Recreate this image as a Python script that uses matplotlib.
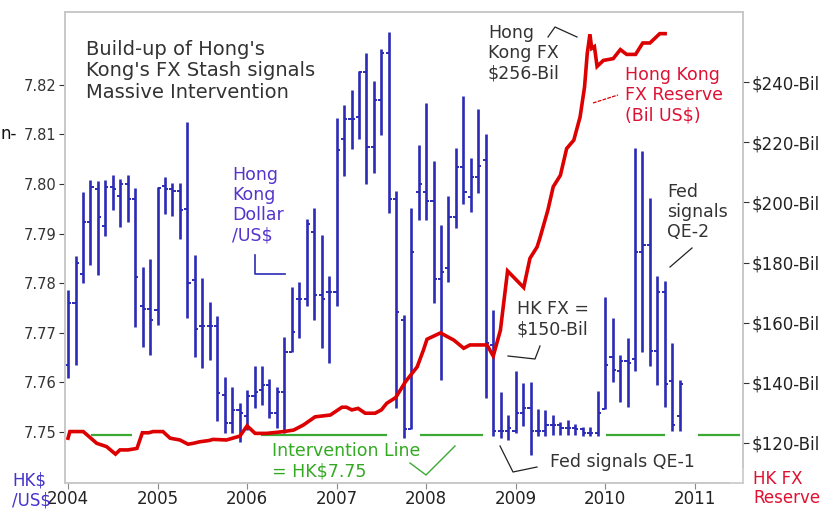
import matplotlib.pyplot as plt
from matplotlib.lines import Line2D

# monthly HK$ per US$ bars, Jan 2004 .. Nov 2010
hkd_high = [7.7786, 7.7854, 7.7983, 7.8008, 7.8006, 7.8008, 7.8018, 7.8010, 7.8018, 7.7992,
            7.7833, 7.7849, 7.7994, 7.8015, 7.8002, 7.8002, 7.8126, 7.7857, 7.7811, 7.7762,
            7.7733, 7.7610, 7.7590, 7.7559, 7.7585, 7.7632, 7.7632, 7.7606, 7.7591, 7.7692,
            7.7793, 7.7803, 7.7929, 7.7951, 7.7897, 7.7815, 7.8133, 7.8160, 7.8189, 7.8227,
            7.8265, 7.8208, 7.8272, 7.8306, 7.7985, 7.7736, 7.7951, 7.8079, 7.8164, 7.8047,
            7.7918, 7.7975, 7.8072, 7.8177, 7.8052, 7.8151, 7.8101, 7.7746, 7.7581, 7.7534,
            7.7622, 7.7598, 7.7601, 7.7546, 7.7544, 7.7534, 7.7521, 7.7524, 7.7516, 7.7509,
            7.7509, 7.7583, 7.7773, 7.7729, 7.7655, 7.7689, 7.8072, 7.8066, 7.7971, 7.7815,
            7.7805, 7.7680, 7.7605]
hkd_low = [7.7609, 7.7635, 7.7801, 7.7837, 7.7817, 7.7895, 7.7948, 7.7914, 7.7924, 7.7712,
           7.7671, 7.7655, 7.7715, 7.7940, 7.7935, 7.7889, 7.7730, 7.7652, 7.7628, 7.7645,
           7.7523, 7.7497, 7.7497, 7.7480, 7.7504, 7.7548, 7.7554, 7.7528, 7.7507, 7.7497,
           7.7662, 7.7689, 7.7754, 7.7725, 7.7669, 7.7640, 7.7754, 7.8016, 7.8070, 7.8090,
           7.8000, 7.8023, 7.8099, 7.7941, 7.7548, 7.7487, 7.7505, 7.7928, 7.7928, 7.7760,
           7.7605, 7.7803, 7.7912, 7.7960, 7.7944, 7.7982, 7.7568, 7.7491, 7.7487, 7.7484,
           7.7497, 7.7511, 7.7454, 7.7491, 7.7491, 7.7494, 7.7494, 7.7494, 7.7494, 7.7492,
           7.7492, 7.7492, 7.7546, 7.7601, 7.7561, 7.7550, 7.7622, 7.7662, 7.7632, 7.7595,
           7.7550, 7.7501, 7.7501]
hkd_open = [7.7634, 7.7761, 7.7819, 7.7924, 7.7990, 7.7916, 7.7995, 7.7976, 7.8000, 7.7970,
            7.7754, 7.7748, 7.7745, 7.7996, 7.7990, 7.7985, 7.7950, 7.7807, 7.7714, 7.7714,
            7.7714, 7.7575, 7.7519, 7.7544, 7.7532, 7.7573, 7.7585, 7.7595, 7.7538, 7.7581,
            7.7662, 7.7768, 7.7768, 7.7904, 7.7776, 7.7783, 7.7783, 7.8090, 7.8131, 7.8135,
            7.8225, 7.8075, 7.8170, 7.8264, 7.7969, 7.7726, 7.7505, 7.7983, 7.7983, 7.7965,
            7.7808, 7.7830, 7.7933, 7.8035, 7.7973, 7.8014, 7.8049, 7.7676, 7.7501, 7.7502,
            7.7501, 7.7538, 7.7548, 7.7501, 7.7501, 7.7514, 7.7514, 7.7507, 7.7507, 7.7505,
            7.7497, 7.7497, 7.7546, 7.7652, 7.7622, 7.7644, 7.7647, 7.7862, 7.7877, 7.7664,
            7.7783, 7.7603, 7.7532]
hkd_close = [7.7761, 7.7841, 7.7924, 7.7995, 7.7934, 7.7995, 7.7990, 7.8000, 7.7970, 7.7813,
             7.7748, 7.7726, 7.7992, 7.7990, 7.7985, 7.7948, 7.7801, 7.7707, 7.7714, 7.7714,
             7.7579, 7.7519, 7.7544, 7.7538, 7.7573, 7.7581, 7.7595, 7.7538, 7.7581, 7.7662,
             7.7702, 7.7768, 7.7920, 7.7776, 7.7768, 7.7783, 7.8069, 7.8131, 7.8131, 7.8225,
             7.8075, 7.8170, 7.8265, 7.7969, 7.7741, 7.7505, 7.7862, 7.8000, 7.7965, 7.7808,
             7.7823, 7.7933, 7.8035, 7.7983, 7.8014, 7.8037, 7.7679, 7.7501, 7.7501, 7.7507,
             7.7538, 7.7548, 7.7501, 7.7501, 7.7514, 7.7514, 7.7507, 7.7507, 7.7505, 7.7497,
             7.7497, 7.7538, 7.7635, 7.7625, 7.7644, 7.7640, 7.7862, 7.7877, 7.7664, 7.7783,
             7.7597, 7.7514, 7.7597]
first_year = 2004.0

# Hong Kong FX reserve, Bil US$
fx_year = [2004.00, 2004.02, 2004.17, 2004.32, 2004.43, 2004.53, 2004.58, 2004.67, 2004.77, 2004.83,
           2004.90, 2004.95, 2005.06, 2005.14, 2005.25, 2005.34, 2005.40, 2005.47, 2005.57, 2005.62,
           2005.77, 2005.92, 2006.00, 2006.09, 2006.22, 2006.41, 2006.52, 2006.63, 2006.76, 2006.93,
           2007.06, 2007.11, 2007.17, 2007.24, 2007.32, 2007.43, 2007.50, 2007.56, 2007.66, 2007.77,
           2007.90, 2007.97, 2008.01, 2008.16, 2008.31, 2008.42, 2008.49, 2008.68, 2008.75, 2008.83,
           2008.91, 2009.09, 2009.16, 2009.24, 2009.27, 2009.36, 2009.42, 2009.50, 2009.57, 2009.65,
           2009.72, 2009.77, 2009.80, 2009.83, 2009.85, 2009.88, 2009.91, 2009.98, 2010.09, 2010.17,
           2010.24, 2010.34, 2010.42, 2010.50, 2010.61, 2010.67]
fx_bil = [121.6, 123.8, 123.8, 119.9, 118.8, 116.3, 117.7, 117.7, 118.2, 123.4,
          123.4, 123.8, 123.8, 121.6, 121.0, 119.6, 119.9, 120.4, 120.8, 121.2,
          121.0, 122.3, 125.7, 123.2, 123.2, 123.8, 124.3, 126.0, 128.7, 129.3,
          131.9, 131.9, 131.0, 131.5, 129.9, 129.9, 131.0, 133.2, 135.1, 140.4,
          145.3, 150.9, 154.5, 156.6, 154.2, 151.5, 152.6, 152.6, 148.9, 157.5,
          177.2, 171.7, 181.4, 185.2, 188.0, 197.4, 205.2, 209.0, 217.9, 220.7,
          228.4, 238.4, 249.5, 255.9, 251.2, 251.8, 245.2, 247.2, 247.8, 250.8,
          249.2, 249.2, 253.0, 253.0, 256.1, 256.1]

# HK$7.75 intervention line pieces
interv_start = [2004.26, 2006.15, 2007.93, 2010.01, 2011.04]
interv_end = [2004.71, 2007.56, 2008.63, 2010.67, 2011.51]
interv_level = 7.7493

years = list(range(2004, 2012))
hkd_ticks = [7.75, 7.76, 7.77, 7.78, 7.79, 7.80, 7.81, 7.82]
bil_ticks = [120, 140, 160, 180, 200, 220, 240]

W, H = 833, 511
BLUE = '#2b2bb5'
RED = '#dd0000'
GREEN = '#3aaa35'
DARK = '#222222'


def px(x, y):
    return x / W, 1 - y / H


fig = plt.figure(figsize=(W / 100, H / 100), dpi=100)
ax = fig.add_axes([65 / W, 1 - 483 / H, (743 - 65) / W, (483 - 12) / H])
ax.set_xlim(2003.966, 2011.54)
ax.set_ylim(7.7397, 7.8347)

# high-low bars with open/close ticks
xs = [first_year + i / 12 for i in range(len(hkd_high))]
ax.vlines(xs, hkd_low, hkd_high, color=BLUE, lw=1.9)
tick_w = 0.035
ax.hlines(hkd_open, [x - tick_w for x in xs], xs, color=BLUE, lw=1.4)
ax.hlines(hkd_close, xs, [x + tick_w for x in xs], color=BLUE, lw=1.4)

ax.hlines([interv_level] * len(interv_start), interv_start, interv_end, color=GREEN, lw=1.6)

ax.set_xticks(years)
ax.set_xticklabels([str(y) for y in years], fontsize=12, color=DARK)
ax.set_yticks(hkd_ticks)
ax.set_yticklabels(['%.2f' % v for v in hkd_ticks], fontsize=10.5, color='#333333')
ax.tick_params(axis='x', direction='out', length=4, pad=1, color='#888888')
ax.tick_params(axis='y', direction='out', length=4, pad=2, color='#333333')

ax2 = ax.twinx()
ax2.set_ylim(106.7, 263.3)
ax2.plot(fx_year, fx_bil, color=RED, lw=2.6, solid_joinstyle='miter')
ax2.set_yticks(bil_ticks)
ax2.set_yticklabels(['$%d-Bil' % v for v in bil_ticks], fontsize=12, color=DARK)
ax2.tick_params(axis='y', direction='out', length=4, pad=2, color='#333333')

for a in (ax, ax2):
    for s in a.spines.values():
        s.set_color('#c8c8c8')
        s.set_linewidth(1.2)
ax.spines['bottom'].set_bounds(2003.966, 2011.38)
ax2.spines['right'].set_bounds(111.9, 263.3)

# annotations
fig.text(*px(86, 40), "Build-up of Hong's\nKong's FX Stash signals\nMassive Intervention",
         fontsize=14, color='#333333', va='top', linespacing=1.16)
fig.text(*px(232, 166), "Hong\nKong\nDollar\n/US$", fontsize=12.5, color='#5533cc',
         va='top', linespacing=1.15)
fig.add_artist(Line2D([255 / W, 255 / W, 285 / W], [1 - 255 / H, 1 - 274 / H, 1 - 274 / H],
                      color=BLUE, lw=1.2))
fig.text(*px(488, 24), "Hong\nKong FX\n$256-Bil", fontsize=12.5, color='#333333',
         va='top', linespacing=1.15)
fig.add_artist(Line2D([548 / W, 555 / W, 577 / W], [1 - 37 / H, 1 - 27 / H, 1 - 37 / H],
                      color=DARK, lw=0.9))
fig.text(*px(625, 66), "Hong Kong\nFX Reserve\n(Bil US$)", fontsize=12.5, color='#dd1133',
         va='top', linespacing=1.15)
fig.add_artist(Line2D([593 / W, 618 / W], [1 - 103 / H, 1 - 95 / H], color=RED, lw=0.9,
                      ls=(0, (3, 1))))
fig.text(*px(667, 183), "Fed\nsignals\nQE-2", fontsize=12.5, color='#333333',
         va='top', linespacing=1.15)
fig.add_artist(Line2D([670 / W, 692 / W], [1 - 267 / H, 1 - 248 / H], color=DARK, lw=0.9))
fig.text(*px(517, 300), "HK FX =\n$150-Bil", fontsize=12.5, color='#333333',
         va='top', linespacing=1.15)
fig.add_artist(Line2D([508 / W, 535 / W, 540 / W], [1 - 356 / H, 1 - 359 / H, 1 - 346 / H],
                      color=DARK, lw=0.9))
fig.text(*px(272, 442), "Intervention Line\n= HK$7.75", fontsize=12.5, color='#33aa22',
         va='top', linespacing=1.15)
fig.add_artist(Line2D([410 / W, 426 / W, 455 / W], [1 - 463 / H, 1 - 475 / H, 1 - 446 / H],
                      color=GREEN, lw=1.0))
fig.text(*px(550, 462), "Fed signals QE-1", fontsize=12.5, color='#333333', va='center')
fig.add_artist(Line2D([500 / W, 513 / W, 537 / W], [1 - 446 / H, 1 - 472 / H, 1 - 467 / H],
                      color=DARK, lw=0.9))
fig.text(*px(12, 472), "HK$\n/US$", fontsize=12, color='#4433cc', va='top', linespacing=1.1)
fig.text(*px(753, 470), "HK FX\nReserve", fontsize=12, color='#e01030', va='top',
         linespacing=1.05)
fig.text(*px(1, 134), "n-", fontsize=12, color='#111111', va='center', ha='left')

fig.savefig('out.png', dpi=100)
